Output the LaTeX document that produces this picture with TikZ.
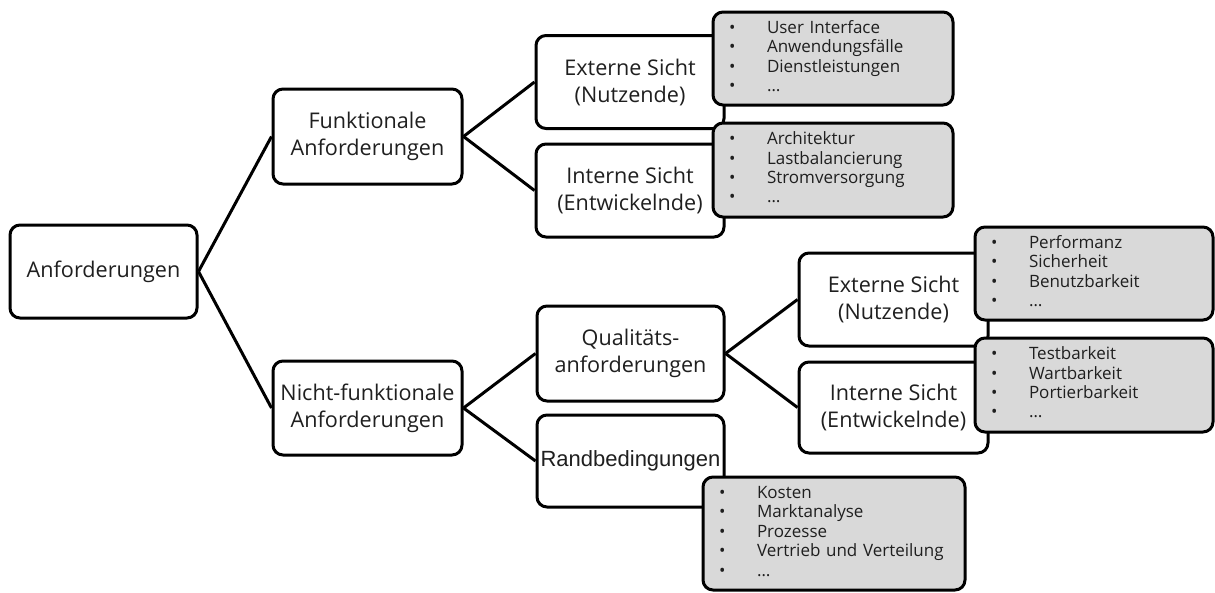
\documentclass[tikz,border=0pt]{standalone}
\usepackage{fontspec}
\setmainfont{Open Sans}
\newfontfamily\arialfont{Liberation Sans}
\begin{document}
\begin{tikzpicture}[x=1pt,y=-1pt,
  every node/.style={text=black!88},
  box/.style={draw=black,line width=3pt,rounded corners=10pt,fill=white,
    align=center,inner sep=0pt,minimum width=#1,
    font=\fontsize{21.6}{27}\selectfont},
  box/.default=188pt,
  listbox/.style={draw=black,line width=3pt,rounded corners=10pt,
    fill=black!15,inner xsep=16pt,inner ysep=0pt,text width=#1,
    font=\fontsize{17}{19.4}\selectfont},
  link/.style={line width=3pt}]
\useasboundingbox (0,0) rectangle (1215,592);

% main hierarchy boxes
\node[box=187pt,minimum height=93pt] (anf) at (103.5,271.5) {Anforderungen};
\node[box=189pt,minimum height=95pt] (funk) at (367.5,136.5) {Funktionale\\Anforderungen};
\node[box=189pt,minimum height=94pt] (nf) at (367.5,408) {Nicht-funktionale\\Anforderungen};
\node[box,minimum height=93pt] (ext1) at (630,82) {Externe Sicht\\(Nutzende)};
\node[box,minimum height=93pt] (int1) at (630,190.5) {Interne Sicht\\(Entwickelnde)};
\node[box=187pt,minimum height=95pt] (qual) at (630.5,353.5) {Qualitäts-\\anforderungen};
\node[box=187pt,minimum height=92pt] (rand) at (630.5,461) {\fontsize{22}{27}\arialfont Randbedingungen};
\node[box=189pt,minimum height=93pt] (ext2) at (893.5,299.5) {Externe Sicht\\(Nutzende)};
\node[box=189pt,minimum height=91pt] (int2) at (893.5,407.5) {Interne Sicht\\(Entwickelnde)};

% connectors
\draw[link] (anf.east) -- (funk.west);
\draw[link] (anf.east) -- (nf.west);
\draw[link] (funk.east) -- (ext1.west);
\draw[link] (funk.east) -- (int1.west);
\draw[link] (nf.east) -- (qual.west);
\draw[link] (nf.east) -- (rand.west);
\draw[link] (qual.east) -- (ext2.west);
\draw[link] (qual.east) -- (int2.west);

% grey detail lists
\newcommand{\itemlist}[1]{\begin{tabular}{@{}p{38pt}@{}l@{}}#1\end{tabular}}
\node[listbox=208pt,minimum height=93pt] (l1) at (833,58.5)
  {\itemlist{\textbullet & User Interface\\ \textbullet & Anwendungsfälle\\ \textbullet & Dienstleistungen\\ \textbullet & …}};
\node[listbox=208pt,minimum height=94pt] (l2) at (833,170)
  {\itemlist{\textbullet & Architektur\\ \textbullet & Lastbalancierung\\ \textbullet & Stromversorgung\\ \textbullet & …}};
\node[listbox=206pt,minimum height=93pt] (l3) at (1094,273.5)
  {\itemlist{\textbullet & Performanz\\ \textbullet & Sicherheit\\ \textbullet & Benutzbarkeit\\ \textbullet & …}};
\node[listbox=206pt,minimum height=94pt] (l4) at (1094,385)
  {\itemlist{\textbullet & Testbarkeit\\ \textbullet & Wartbarkeit\\ \textbullet & Portierbarkeit\\ \textbullet & …}};
\node[listbox=230pt,minimum height=113pt] (l5) at (834,533.5)
  {\itemlist{\textbullet & Kosten\\ \textbullet & Marktanalyse\\ \textbullet & Prozesse\\ \textbullet & Vertrieb und Verteilung\\ \textbullet & …}};
\end{tikzpicture}
\end{document}
